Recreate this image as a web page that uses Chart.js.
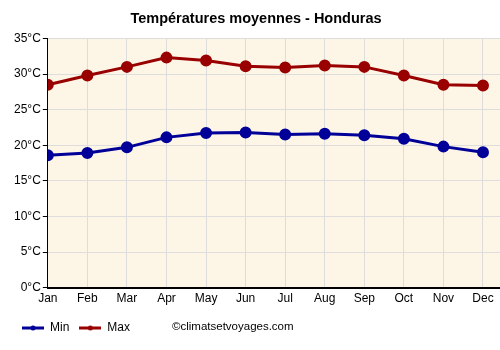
<!DOCTYPE html>
<html><head><meta charset="utf-8">
<script src="https://cdn.jsdelivr.net/npm/chart.js@4/dist/chart.umd.min.js"></script>
<style>html,body{margin:0;padding:0;background:#fff}#wrap{width:500px;height:350px}</style>
</head><body><div id="wrap"><canvas id="c" width="500" height="350"></canvas></div>
<script>
const months = ["Jan","Feb","Mar","Apr","May","Jun","Jul","Aug","Sep","Oct","Nov","Dec"];
const minTemps = [18.6,18.9,19.7,21.1,21.7,21.8,21.5,21.6,21.4,20.9,19.8,19.0];
const maxTemps = [28.5,29.8,31.0,32.3,31.9,31.1,30.9,31.2,31.0,29.8,28.5,28.4];
const yTicks = [0,5,10,15,20,25,30,35];
const titleText = "Températures moyennes - Honduras";
const creditText = "©climatsetvoyages.com";
const FONT = '"Liberation Sans", Arial, sans-serif';

function legendIcon(color){
  const c = document.createElement('canvas');
  c.width = 22; c.height = 8;
  const x = c.getContext('2d');
  x.strokeStyle = color; x.lineWidth = 3;
  x.beginPath(); x.moveTo(0,4); x.lineTo(22,4); x.stroke();
  x.fillStyle = color; x.beginPath(); x.arc(11,4,2.5,0,Math.PI*2); x.fill();
  return c;
}

const bgPlugin = {
  id:'bg',
  beforeDraw(chart){
    const {ctx, chartArea:a} = chart;
    ctx.save(); ctx.fillStyle = '#fdf5e6';
    ctx.fillRect(a.left, a.top, a.right-a.left, a.bottom-a.top);
    ctx.restore();
  },
  afterDraw(chart){
    const ctx = chart.ctx;
    ctx.save();
    ctx.font = '11.5px ' + FONT;
    ctx.fillStyle = '#000'; ctx.textBaseline = 'middle';
    ctx.fillText(creditText, 172, 327);
    ctx.restore();
  }
};

new Chart(document.getElementById('c'), {
  type:'line',
  data:{
    datasets:[
      {label:'Min', data:minTemps.map((v,i)=>({x:i,y:v})), borderColor:'#000099', backgroundColor:'#000099',
       borderWidth:3, pointRadius:4.5, pointHoverRadius:4.5},
      {label:'Max', data:maxTemps.map((v,i)=>({x:i,y:v})), borderColor:'#990000', backgroundColor:'#990000',
       borderWidth:3, pointRadius:4.5, pointHoverRadius:4.5}
    ]
  },
  options:{
    responsive:false, animation:false, devicePixelRatio:1,
    layout:{autoPadding:false, padding:{left:12,right:0,top:0,bottom:6}},
    elements:{line:{tension:0}, point:{pointStyle:'circle'}},
    plugins:{
      title:{display:true, text:titleText, color:'#000',
        font:{family:FONT, size:14.5, weight:'bold'}, padding:{top:10,bottom:11}},
      legend:{position:'bottom', align:'start',
        labels:{usePointStyle:true, pointStyleWidth:22, boxHeight:8, padding:10, color:'#000',
          font:{family:FONT, size:12},
          generateLabels(chart){
            return chart.data.datasets.map((d,i)=>({text:d.label, fillStyle:d.borderColor, strokeStyle:d.borderColor,
              pointStyle:legendIcon(d.borderColor), lineWidth:0, datasetIndex:i, hidden:false, fontColor:'#000'}));
          }}},
      tooltip:{enabled:false}
    },
    scales:{
      x:{type:'linear', min:0, max:11.43,
        ticks:{stepSize:1, includeBounds:false, autoSkip:false, maxRotation:0, color:'#000', padding:3,
          font:{family:FONT, size:12},
          callback:(v)=>months[v]},
        afterBuildTicks(s){ s.ticks = months.map((m,i)=>({value:i})); },
        afterFit(s){ s.paddingRight = 0; s.paddingLeft = 0; s.height += 3; },
        grid:{color:'#dddddd', drawTicks:true, tickLength:1, tickColor:'#dddddd'},
        border:{color:'#000', width:2}},
      y:{min:0, max:35,
        afterBuildTicks(s){ s.ticks = yTicks.map(v=>({value:v})); },
        ticks:{color:'#000', padding:2, font:{family:FONT, size:12},
          callback:(v)=>v+'°C'},
        grid:{color:'#dddddd', tickLength:5, tickColor:'#000'},
        border:{color:'#000', width:1}}
    }
  },
  plugins:[bgPlugin]
});
</script></body></html>
